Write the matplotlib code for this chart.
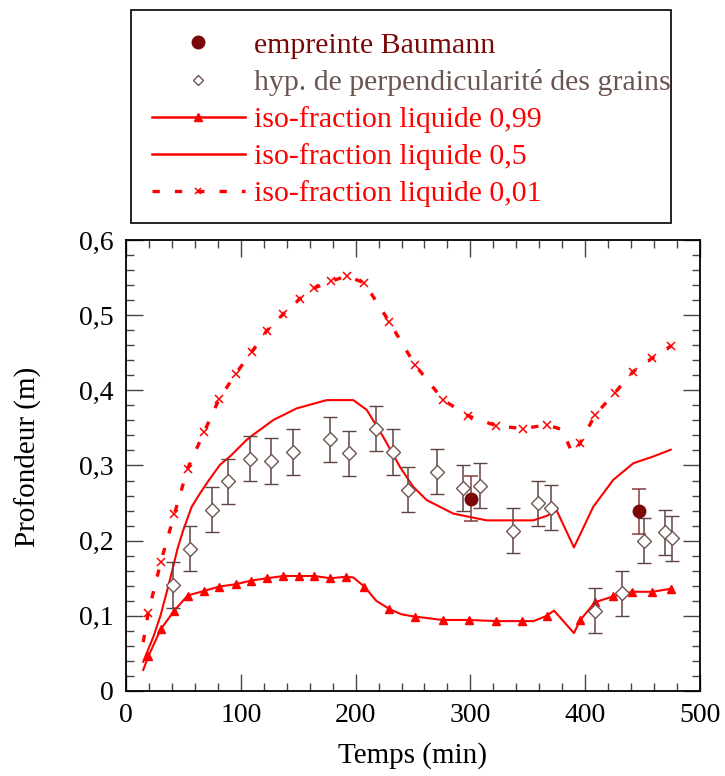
import numpy as np
import matplotlib.pyplot as plt
from matplotlib.lines import Line2D
from matplotlib.patches import Rectangle
from matplotlib.ticker import MultipleLocator, FuncFormatter

plt.rcParams['font.family'] = ['Liberation Serif', 'DejaVu Serif']

## data

# iso-fraction liquide 0,99 (line with triangles)
t_099 = [15, 19.4, 30.2, 42.1, 53.7, 67.7, 81.3, 95.5, 109.2, 122.8, 137, 150.7, 163.8,
         178, 191.9, 198, 207.6, 218, 229.4, 240, 251.4, 275.8, 298.8, 322, 344.7, 355,
         366.5, 372.8, 390.2, 395.5, 408.5, 424.5, 440.9, 458.5, 474.5]
y_099 = [0.028, 0.046, 0.082, 0.107, 0.127, 0.133, 0.139, 0.142, 0.147, 0.150, 0.153, 0.153, 0.153,
         0.150, 0.152, 0.151, 0.139, 0.120, 0.109, 0.102, 0.099, 0.0945, 0.0945, 0.093, 0.093, 0.093,
         0.100, 0.107, 0.077, 0.094, 0.118, 0.126, 0.132, 0.132, 0.136]
marks_099 = [1, 2, 3, 4, 5, 6, 7, 8, 9, 10, 11, 12, 13, 14, 16, 18, 20, 21, 22, 23, 24,
             26, 29, 30, 31, 32, 33, 34]

# iso-fraction liquide 0,5 (plain line)
t_05 = [15, 23.8, 30, 38.3, 45, 49.9, 57.2, 64.5, 72, 81.9, 90.6, 105, 110.9, 128.3, 148.7,
        174.8, 198, 209.7, 224.1, 238.7, 250, 261.9, 285.1, 314.2, 354.8, 366.5, 375.2,
        390.2, 407, 424.5, 441.9, 459.3, 474.5]
y_05 = [0.039, 0.072, 0.100, 0.148, 0.190, 0.214, 0.245, 0.263, 0.280, 0.301, 0.312, 0.334, 0.341,
        0.3605, 0.376, 0.387, 0.387, 0.374, 0.338, 0.298, 0.272, 0.254, 0.236, 0.227, 0.227,
        0.233, 0.240, 0.191, 0.245, 0.281, 0.303, 0.312, 0.321]

# iso-fraction liquide 0,01 (dotted line with crosses)
t_001 = [15, 19.4, 30.2, 42.1, 53.7, 67.9, 81, 95.5, 109.5, 122.5, 137, 151.6, 164, 178.3,
         192.2, 207.6, 229.4, 251.7, 276.4, 298.2, 322.3, 345.6, 366.5, 379.5, 389, 395.5,
         408.5, 426, 441.9, 458.5, 474.7]
y_001 = [0.065, 0.104, 0.171, 0.235, 0.296, 0.344, 0.388, 0.422, 0.451, 0.479, 0.5015, 0.522,
         0.536, 0.545, 0.552, 0.543, 0.491, 0.434, 0.387, 0.366, 0.353, 0.349, 0.354, 0.348,
         0.316, 0.3295, 0.367, 0.397, 0.425, 0.443, 0.459]
marks_001 = [1, 2, 3, 4, 5, 6, 7, 8, 9, 10, 11, 12, 13, 14, 15, 16, 17, 18, 19, 20, 21, 22,
             25, 26, 27, 28, 29, 30]

# hyp. de perpendicularite des grains
t_hyp = [40.6, 55.7, 74.6, 89.1, 108, 126, 145.7, 177.7, 194.5, 217.8, 232.3, 245.9, 270.6,
         293.3, 308.4, 337.4, 359.2, 370, 408.5, 431.8, 451.2, 469.5, 475.4]
y_hyp = [0.141, 0.189, 0.241, 0.279, 0.309, 0.306, 0.318, 0.335, 0.316, 0.349, 0.318, 0.268,
         0.292, 0.270, 0.273, 0.213, 0.250, 0.244, 0.107, 0.130, 0.200, 0.211, 0.203]
err_hyp = 0.03

# empreinte Baumann
t_bau = [300.2, 446.9]
y_bau = [0.256, 0.239]
err_bau = 0.03

red = '#ff0000'
maroon = '#7a0808'
brown = '#5e4540'

fig = plt.figure(figsize=(7.25, 7.76), dpi=100)
ax = fig.add_axes([126 / 725, 1 - 691 / 776, 574 / 725, 451 / 776])

ax.plot(t_001, y_001, color=red, lw=2.4, ls=(0, (2.2, 4.5)), marker='x', ms=6, mew=1.1,
        markevery=marks_001)
ax.plot(t_05, y_05, color=red, lw=1.5)
ax.plot(t_099, y_099, color=red, lw=1.5, marker='^', ms=6, markevery=marks_099)

ax.errorbar(t_hyp, y_hyp, yerr=err_hyp, fmt='D', ms=6.8, mfc='white', mec='#6e5550', mew=1.0,
            ecolor=brown, elinewidth=1.1, capsize=4.8, capthick=1.1)
ax.errorbar(t_bau, y_bau, yerr=err_bau, fmt='o', ms=9, color=maroon, ecolor='#8a3a3a',
            elinewidth=1.1, capsize=4.8, capthick=1.1)

ax.set_xlim(0, 500)
ax.set_ylim(0, 0.6)
ax.xaxis.set_major_locator(MultipleLocator(100))
ax.xaxis.set_minor_locator(MultipleLocator(20))
ax.yaxis.set_major_locator(MultipleLocator(0.1))
ax.yaxis.set_minor_locator(MultipleLocator(0.02))
ax.yaxis.set_major_formatter(FuncFormatter(lambda v, p: '0' if abs(v) < 1e-9 else f"{v:.1f}".replace('.', ',')))
ax.tick_params(which='both', direction='in', top=True, right=True, labelsize=20, color='#444444')
ax.tick_params(which='major', length=12, width=1.0, pad=9)
ax.tick_params(which='minor', length=6, width=1.0)
for s in ax.spines.values():
    s.set_linewidth(1.3)

ax.set_xlabel('Temps (min)', fontsize=21, labelpad=10)
ax.set_ylabel('Profondeur (m)', fontsize=21)
ax.yaxis.set_label_coords(-0.146, 0.52)

# legend
handles = [
    Line2D([], [], ls='none', marker='o', ms=9, color=maroon),
    Line2D([], [], ls='none', marker='D', ms=5, mfc='white', mec='#6e5550', mew=1.0),
    Line2D([], [], color=red, lw=1.8, marker='^', ms=6),
    Line2D([], [], color=red, lw=1.8),
    Line2D([], [], color=red, lw=2.4, ls=(0, (2.2, 4.5)), marker='x', ms=5, mew=1.1),
]
labels = ['empreinte Baumann', 'hyp. de perpendicularité des grains',
          'iso-fraction liquide 0,99', 'iso-fraction liquide 0,5', 'iso-fraction liquide 0,01']
leg = fig.legend(handles, labels, loc='upper left', bbox_to_anchor=(152 / 725, 1 - 32 / 776),
                 frameon=False, fontsize=21.5, handlelength=3.1, handletextpad=0.3,
                 labelspacing=0.34, borderpad=0, borderaxespad=0, numpoints=1,
                 labelcolor=[maroon, '#6b5550', red, red, red])
fig.patches.append(Rectangle((131 / 725, 1 - 223 / 776), 540 / 725, 213 / 776,
                             transform=fig.transFigure, fill=False, ec='black', lw=1.2))

plt.savefig('out.png', dpi=100)
